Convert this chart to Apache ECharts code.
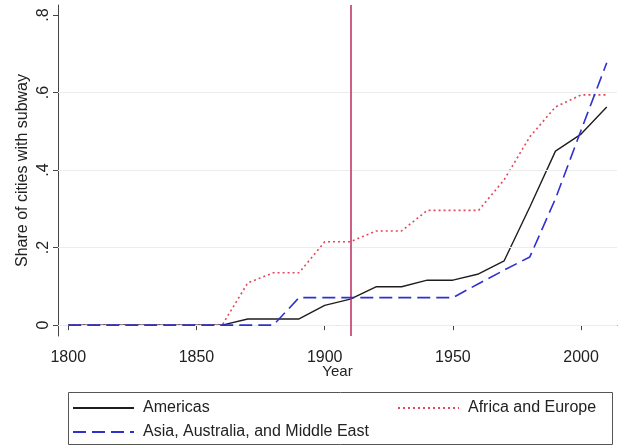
<!DOCTYPE html>
<html>
<head>
<meta charset="utf-8">
<script src="https://cdn.jsdelivr.net/npm/echarts@6/dist/echarts.min.js"></script>
<style>
  html, body { margin: 0; padding: 0; background: #ffffff; }
  #chart { width: 620px; height: 445px; }
</style>
</head>
<body>
<div id="chart"></div>
<script>
// Decade observations
const years = [1800, 1810, 1820, 1830, 1840, 1850, 1860, 1870, 1880, 1890, 1900,
               1910, 1920, 1930, 1940, 1950, 1960, 1970, 1980, 1990, 2000, 2010];
const americas = [0, 0, 0, 0, 0, 0, 0, 0.016, 0.016, 0.016, 0.051,
                  0.067, 0.099, 0.099, 0.116, 0.116, 0.132, 0.166, 0.305, 0.449, 0.493, 0.563];
const africaEurope = [0, 0, 0, 0, 0, 0, 0, 0.109, 0.135, 0.135, 0.215,
                      0.215, 0.243, 0.243, 0.296, 0.296, 0.296, 0.375, 0.486, 0.563, 0.594, 0.594];
const asiaAustraliaME = [0, 0, 0, 0, 0, 0, 0, 0, 0, 0.071, 0.071,
                         0.071, 0.071, 0.071, 0.071, 0.071, 0.107, 0.142, 0.176, 0.326, 0.503, 0.677];

// Axis ticks
const xTicks = [1800, 1850, 1900, 1950, 2000];
const yTicks = [0, 0.2, 0.4, 0.6, 0.8];
const yGrid = [0, 0.2, 0.4, 0.6];
const refYear = 1910;

const FONT = '"Liberation Sans", Arial, sans-serif';
const pairs = (ys) => years.map((x, i) => [x, ys[i]]);
const yLabel = (v) => {
  if (Math.abs(v) < 1e-9) return '0';
  return '.' + Math.round(v * 10);
};

// One legend box per entry so each can sit in its own cell of the key
function legendEntry(name, left, top) {
  return {
    data: [name],
    left: left,
    top: top,
    padding: 0,
    itemWidth: 61,
    itemHeight: 14,
    itemStyle: { opacity: 0, borderWidth: 0 },
    textStyle: { fontSize: 16, color: '#222', fontFamily: FONT, padding: [0, 0, 0, 4] },
    selectedMode: false
  };
}

const chart = echarts.init(document.getElementById('chart'), null, { renderer: 'canvas' });

chart.setOption({
  animation: false,
  backgroundColor: '#ffffff',
  textStyle: { fontFamily: FONT, color: '#222' },
  grid: { left: 58, right: 3, top: 5, bottom: 109, containLabel: false },
  xAxis: {
    type: 'value',
    min: 1796,
    max: 2014,
    name: 'Year',
    nameLocation: 'middle',
    nameGap: 28,
    nameMoveOverlap: false,
    nameTextStyle: { fontSize: 15, color: '#222', fontFamily: FONT },
    axisLine: { show: true, lineStyle: { color: '#444', width: 1 } },
    axisTick: { show: true, length: 5, customValues: xTicks, lineStyle: { color: '#444' } },
    axisLabel: { customValues: xTicks, fontSize: 16, margin: 14, color: '#222', fontFamily: FONT,
                 formatter: (v) => String(v) },
    splitLine: { show: false }
  },
  yAxis: {
    type: 'value',
    min: -0.028,
    max: 0.826,
    name: 'Share of cities with subway',
    nameLocation: 'middle',
    nameRotate: 90,
    nameGap: 27,
    nameMoveOverlap: false,
    nameTextStyle: { fontSize: 16, color: '#222', fontFamily: FONT },
    axisLine: { show: true, lineStyle: { color: '#444', width: 1 } },
    axisTick: { show: true, length: 5, customValues: yTicks, lineStyle: { color: '#444' } },
    axisLabel: { customValues: yTicks, fontSize: 16, margin: 6, rotate: 90, color: '#222',
                 fontFamily: FONT, formatter: yLabel },
    splitLine: { show: false }
  },
  legend: [
    legendEntry('Americas', 72, 400),
    legendEntry('Asia, Australia, and Middle East', 72, 424),
    legendEntry('Africa and Europe', 397, 400)
  ],
  graphic: [
    {
      type: 'rect',
      left: 66,
      top: 390,
      shape: { width: 544, height: 52 },
      style: { fill: 'none', stroke: '#555', lineWidth: 1 },
      silent: true
    }
  ],
  series: [
    {
      // reference lines: faint horizontal grid and the vertical marker year
      type: 'line',
      data: [],
      z: 1,
      silent: true,
      markLine: {
        silent: true,
        symbol: ['none', 'none'],
        label: { show: false },
        animation: false,
        data: yGrid.map(v => ({ yAxis: v, lineStyle: { color: '#ececec', width: 1, type: 'solid' } }))
          .concat([{ xAxis: refYear, lineStyle: { color: '#c23868', width: 1.6, type: 'solid' } }])
      }
    },
    {
      name: 'Americas',
      type: 'line',
      data: pairs(americas),
      symbol: 'none',
      z: 4,
      lineStyle: { color: '#1e1e1e', width: 1.4, type: 'solid' },
      itemStyle: { color: '#1e1e1e' }
    },
    {
      name: 'Africa and Europe',
      type: 'line',
      data: pairs(africaEurope),
      symbol: 'none',
      z: 3,
      lineStyle: { color: '#e3485a', width: 1.6, type: [2, 3] },
      itemStyle: { color: '#e3485a' }
    },
    {
      name: 'Asia, Australia, and Middle East',
      type: 'line',
      data: pairs(asiaAustraliaME),
      symbol: 'none',
      z: 5,
      lineStyle: { color: '#3030cc', width: 1.6, type: [13, 6] },
      itemStyle: { color: '#3030cc' }
    }
  ]
});
</script>
</body>
</html>
